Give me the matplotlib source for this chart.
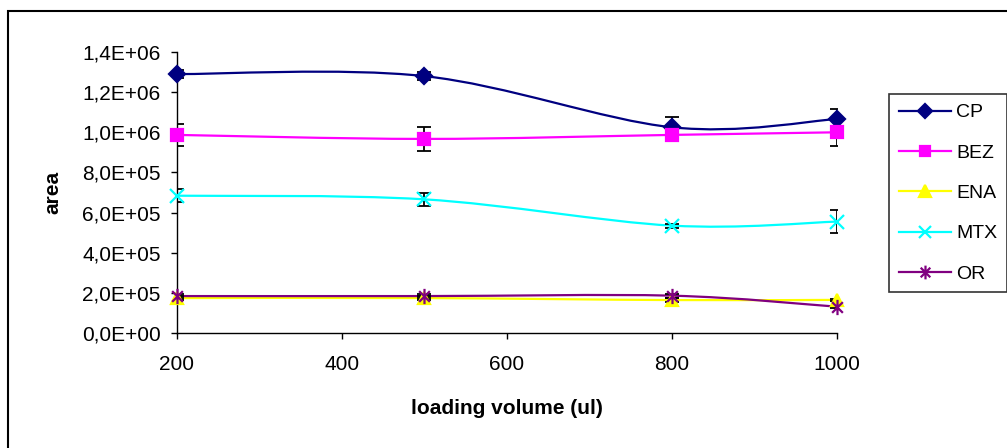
import matplotlib
matplotlib.use('Agg')
import matplotlib.pyplot as plt
from matplotlib.path import Path
from matplotlib.patches import PathPatch, Rectangle
from matplotlib.lines import Line2D
from matplotlib.ticker import FuncFormatter

plt.rcParams['font.family'] = ['Liberation Sans', 'DejaVu Sans']

# data
volume = [200, 500, 800, 1000]
series = ['CP', 'BEZ', 'ENA', 'MTX', 'OR']
cp = [1.29e6, 1.28e6, 1.025e6, 1.066e6]
bez = [0.987e6, 0.967e6, 0.987e6, 1.0e6]
ena = [0.174e6, 0.174e6, 0.164e6, 0.165e6]
mtx = [0.684e6, 0.666e6, 0.535e6, 0.555e6]
orr = [0.184e6, 0.184e6, 0.186e6, 0.131e6]
cp_err = [0.02e6, 0.018e6, 0.05e6, 0.05e6]
bez_err = [0.055e6, 0.058e6, 0.03e6, 0.068e6]
ena_err = [0.01e6, 0.01e6, 0.008e6, 0.005e6]
mtx_err = [0.031e6, 0.033e6, 0.01e6, 0.056e6]
or_err = [0.01e6, 0.012e6, 0.01e6, 0.005e6]

values = [cp, bez, ena, mtx, orr]
errors = [cp_err, bez_err, ena_err, mtx_err, or_err]
colors = ['#000080', '#FF00FF', '#FFFF00', '#00FFFF', '#800080']

# asterisk marker like excel (x plus vertical bar)
star = Path([(0, -1), (0, 1), (-0.7, -0.7), (0.7, 0.7), (-0.7, 0.7), (0.7, -0.7)],
            [Path.MOVETO, Path.LINETO, Path.MOVETO, Path.LINETO, Path.MOVETO, Path.LINETO])
markers = ['D', 's', '^', 'x', star]
msizes = [8, 8, 9, 10, 11]


def smooth_path(xs, ys):
    # excel-like smoothed line: cubic bezier segments (catmull-rom tangents)
    n = len(xs)
    verts = [(xs[0], ys[0])]
    codes = [Path.MOVETO]
    for i in range(n - 1):
        a = max(i - 1, 0)
        b = min(i + 2, n - 1)
        c1 = (xs[i] + (xs[i + 1] - xs[a]) / 6, ys[i] + (ys[i + 1] - ys[a]) / 6)
        c2 = (xs[i + 1] - (xs[b] - xs[i]) / 6, ys[i + 1] - (ys[b] - ys[i]) / 6)
        verts += [c1, c2, (xs[i + 1], ys[i + 1])]
        codes += [Path.CURVE4] * 3
    return Path(verts, codes)


fig = plt.figure(figsize=(10.07, 4.48), dpi=100)
ax = fig.add_axes([0.1753, 0.2567, 0.6559, 0.6272])

handles = []
for name, y, err, c, m, ms in zip(series, values, errors, colors, markers, msizes):
    ax.add_patch(PathPatch(smooth_path(volume, y), fill=False, edgecolor=c, lw=1.6, zorder=2))
    ax.errorbar(volume, y, yerr=err, fmt='none', ecolor='black', elinewidth=1.3,
                capsize=4.7, capthick=1.3, zorder=3)
    ax.plot(volume, y, ls='none', marker=m, ms=ms, color=c, mec=c, mew=1.6, zorder=4, clip_on=False)
    handles.append(Line2D([], [], color=c, lw=1.6, marker=m, ms=ms * 0.9, mec=c, mew=1.6))

ax.set_xlim(200, 1000)
ax.set_ylim(0, 1.4e6)
ax.set_xticks([200, 400, 600, 800, 1000])
ax.set_yticks([0, 2e5, 4e5, 6e5, 8e5, 1e6, 1.2e6, 1.4e6])
ax.yaxis.set_major_formatter(FuncFormatter(lambda v, p: f'{v:.1E}'.replace('.', ',')))
ax.tick_params(direction='out', length=4.5, width=1, labelsize=15, colors='black')
ax.tick_params(axis='x', pad=11)
ax.tick_params(axis='y', pad=7)
for s in ['top', 'right']:
    ax.spines[s].set_visible(False)
for s in ['left', 'bottom']:
    ax.spines[s].set_linewidth(1)

ax.set_xlabel('loading volume (ul)', fontsize=15, fontweight='bold', va='center')
ax.xaxis.set_label_coords(0.5, -0.267)
ax.set_ylabel('area', fontsize=15, fontweight='bold', va='center')
ax.yaxis.set_label_coords(-0.187, 0.5)

leg = fig.legend(handles, series, loc='upper left', bbox_to_anchor=(889 / 1007, 1 - 94 / 448),
                 fontsize=14, frameon=True, fancybox=False, edgecolor='black',
                 handlelength=2.7, handletextpad=0.25, labelspacing=1.17,
                 borderpad=0.5, borderaxespad=0)
leg.get_frame().set_linewidth(1.2)

# outer chart border (cut off at right and bottom)
fig.patches.append(Rectangle((8 / 1007, -0.1), 1.2, 1 - 11 / 448 + 0.1, transform=fig.transFigure,
                             fill=False, edgecolor='black', lw=1.5))

plt.savefig('out.png', dpi=100)
